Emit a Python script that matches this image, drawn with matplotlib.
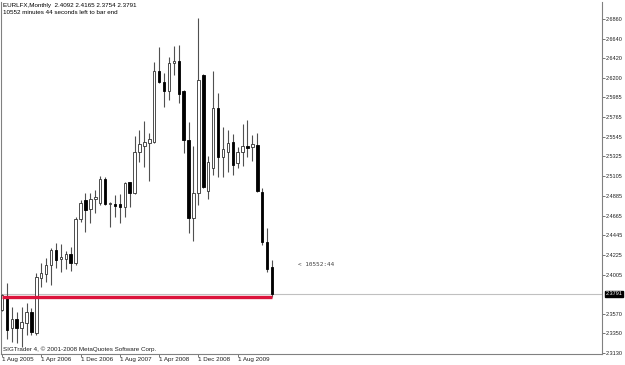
import matplotlib
matplotlib.use("Agg")
import matplotlib.pyplot as plt
import matplotlib.transforms as mtransforms
import numpy as np

plt.rcParams['font.family'] = ['Liberation Sans', 'DejaVu Sans']

# monthly OHLC, Aug 2005 .. Mar 2010
opens = [2.3610, 2.3755, 2.3409, 2.3509, 2.3409, 2.3465, 2.3588, 2.3353, 2.3967, 2.4012,
         2.4113, 2.4280, 2.4179, 2.4179, 2.4235, 2.4135, 2.4626, 2.4838, 2.4738, 2.4850,
         2.4805, 2.5073, 2.4794, 2.4794, 2.4794, 2.4760, 2.5039, 2.4917, 2.5375, 2.5442,
         2.5475, 2.5486, 2.6279, 2.6156, 2.6056, 2.6369, 2.6391, 2.6056, 2.5509, 2.4637,
         2.4917, 2.6235, 2.4939, 2.5196, 2.5866, 2.5319, 2.5375, 2.5486, 2.5252, 2.5375,
         2.5442, 2.5430, 2.5453, 2.4928, 2.4369, 2.4092]
highs = [2.3789, 2.3911, 2.3643, 2.3588, 2.3643, 2.3688, 2.3632, 2.4023, 2.4135, 2.4191,
         2.4303, 2.4358, 2.4347, 2.4269, 2.4314, 2.4649, 2.4838, 2.4917, 2.4917, 2.4950,
         2.5106, 2.5095, 2.4816, 2.4894, 2.4905, 2.5039, 2.5039, 2.5553, 2.5620, 2.5721,
         2.5587, 2.6380, 2.6547, 2.6257, 2.6436, 2.6558, 2.6569, 2.6067, 2.5710, 2.5442,
         2.6871, 2.6246, 2.5330, 2.6279, 2.6034, 2.5654, 2.5620, 2.5576, 2.5430, 2.5687,
         2.5732, 2.5564, 2.5587, 2.4972, 2.4526, 2.4165]
lows = [2.3599, 2.3286, 2.3253, 2.3241, 2.3197, 2.3331, 2.3331, 2.3331, 2.3867, 2.3923,
        2.3889, 2.4079, 2.4034, 2.4068, 2.4046, 2.4113, 2.4593, 2.4481, 2.4582, 2.4693,
        2.4783, 2.4783, 2.4537, 2.4649, 2.4582, 2.4649, 2.4760, 2.4905, 2.5263, 2.5207,
        2.5051, 2.5475, 2.6145, 2.5877, 2.5955, 2.6235, 2.5922, 2.5363, 2.4470, 2.4381,
        2.4783, 2.4972, 2.4850, 2.5118, 2.5095, 2.5095, 2.5151, 2.5118, 2.5196, 2.5218,
        2.5319, 2.5274, 2.4928, 2.4336, 2.4034, 2.3754]
closes = [2.3778, 2.3387, 2.3509, 2.3409, 2.3476, 2.3588, 2.3364, 2.3979, 2.4023, 2.4113,
          2.4280, 2.4168, 2.4202, 2.4235, 2.4135, 2.4626, 2.4805, 2.4727, 2.4850, 2.4872,
          2.5073, 2.4794, 2.4805, 2.4772, 2.4760, 2.5028, 2.4917, 2.5375, 2.5464, 2.5486,
          2.5520, 2.6279, 2.6156, 2.6056, 2.6369, 2.6391, 2.6022, 2.5509, 2.4637, 2.4917,
          2.6179, 2.4984, 2.5263, 2.5866, 2.5319, 2.5408, 2.5475, 2.5229, 2.5375, 2.5442,
          2.5419, 2.5464, 2.4939, 2.4369, 2.4069, 2.3791]

date_labels = ["1 Aug 2005", "1 Apr 2006", "1 Dec 2006", "1 Aug 2007",
               "1 Apr 2008", "1 Dec 2008", "1 Aug 2009"]
date_bars = [0, 8, 16, 24, 32, 40, 48]

price_ticks = [2.6860, 2.6640, 2.6420, 2.6200, 2.5985, 2.5765, 2.5545, 2.5325, 2.5105,
               2.4885, 2.4665, 2.4445, 2.4225, 2.4005, 2.3570, 2.3350, 2.3130]

current_price = 2.3791
support_level = 2.3754
header = "EURLFX,Monthly  2.4092 2.4165 2.3754 2.3791"
timer_line = "10552 minutes 44 seconds left to bar end"
timer_short = "< 10552:44"
copyright_text = "SIGTrader 4, \u00a9 2001-2008 MetaQuotes Software Corp."

o = np.array(opens)
h = np.array(highs)
l = np.array(lows)
c = np.array(closes)
x = np.arange(len(o))
up = c >= o

fig = plt.figure(figsize=(6.25, 3.65), dpi=100)
ax = fig.add_axes([1 / 625, 11 / 365, 601 / 625, 352 / 365])

# wicks
ax.vlines(x, l, h, color='#505050', lw=0.8, zorder=2)

# bodies
body_bottom = np.minimum(o, c)
body_height = np.maximum(np.abs(c - o), 0.0002)
ax.bar(x[up], body_height[up], bottom=body_bottom[up], width=0.5,
       color='white', edgecolor='#303030', lw=0.6, zorder=3)
ax.bar(x[~up], body_height[~up], bottom=body_bottom[~up], width=0.5,
       color='black', edgecolor='black', lw=0.6, zorder=3)

# current price line and support line
ax.axhline(current_price, color='#c0c0c0', lw=0.8, zorder=1)
ax.hlines(support_level, x[0], x[-1], color='#dc143c', lw=2.4, zorder=4)

ax.set_xlim(-0.2, 122.2)
ax.set_ylim(2.3119, 2.7050)

# axes styling
ax.spines['top'].set_visible(False)
for side in ['left', 'right', 'bottom']:
    ax.spines[side].set_color('#808080')
    ax.spines[side].set_linewidth(0.8)

ax.yaxis.tick_right()
ax.set_yticks(price_ticks)
ax.set_yticklabels([f"{v:.4f}" for v in price_ticks])
ax.tick_params(axis='y', direction='out', length=2, width=0.6, color='#606060',
               labelsize=4.0, labelcolor='#202020', pad=1)

ax.set_xticks(date_bars)
ax.set_xticklabels(date_labels, ha='left')
ax.tick_params(axis='x', direction='out', length=2, width=0.6, color='#606060',
               labelsize=4.5, labelcolor='#202020', pad=0.5)

# current price box on the right scale
trans = mtransforms.blended_transform_factory(ax.transAxes, ax.transData)
ax.text(1.006, current_price, f"{current_price:.4f}", transform=trans, ha='left', va='center',
        fontsize=4.0, color='white',
        bbox=dict(boxstyle='square,pad=0.12', facecolor='black', edgecolor='black'))

# texts
fig.text(3 / 625, 1 - 5 / 365, header, fontsize=4.5, va='center', ha='left', color='black')
fig.text(3 / 625, 1 - 13 / 365, timer_line, fontsize=4.5, va='center', ha='left', color='black')
fig.text(3 / 625, 1 - 349 / 365, copyright_text, fontsize=4.5, va='center', ha='left', color='#202020')
fig.text(298 / 625, 1 - 264 / 365, timer_short, fontsize=4.3, va='center', ha='left',
         color='#404040', family='DejaVu Sans Mono')

fig.savefig('out.png', dpi=100)
